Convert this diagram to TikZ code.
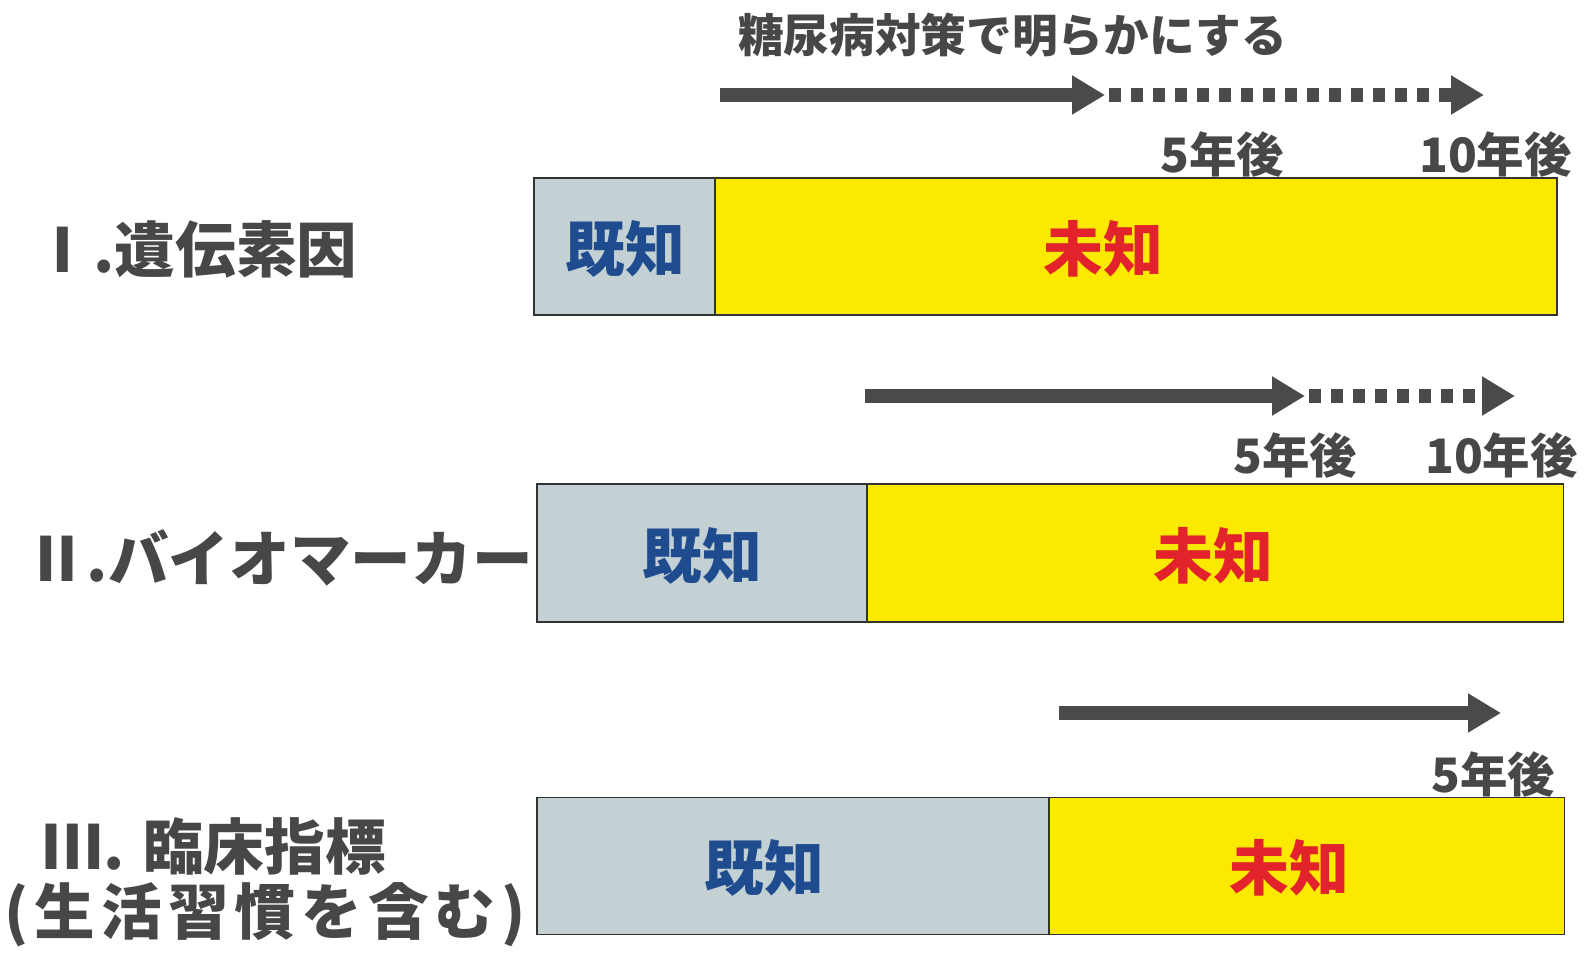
\documentclass[tikz,border=0pt]{standalone}
\usepackage{fontspec}
\setmainfont{Noto Sans CJK JP}
\newfontfamily\widefont{Noto Sans CJK JP}[LetterSpace=10]
\usetikzlibrary{arrows.meta}

\definecolor{inkgray}{HTML}{474747}
\definecolor{arrowgray}{HTML}{4A4A4A}
\definecolor{knownfill}{HTML}{C4D1D4}
\definecolor{unknownfill}{HTML}{FBE900}
\definecolor{knownblue}{HTML}{1F4C8F}
\definecolor{unknownred}{HTML}{E3232B}

\begin{document}
\begin{tikzpicture}[
    rowlabel/.style={anchor=west, inner sep=0pt, text=inkgray, font=\bfseries\fontsize{34.5}{40}\selectfont},
    yearlabel/.style={inner sep=0pt, text=inkgray, font=\bfseries\fontsize{27}{30}\selectfont},
    known/.style={draw=black!80, line width=1.1pt, fill=knownfill},
    unknown/.style={draw=black!80, line width=1.1pt, fill=unknownfill},
    knowntext/.style={inner sep=0pt, text=knownblue, font=\bfseries\fontsize{34}{38}\selectfont},
    unknowntext/.style={inner sep=0pt, text=unknownred, font=\bfseries\fontsize{34}{38}\selectfont},
    plan/.style={draw=arrowgray, line width=0.27cm, -{Triangle[length=0.66cm,width=0.74cm]}},
    goal/.style={plan, dash pattern=on 0.24cm off 0.2cm}
]

    \useasboundingbox (0,0) rectangle (31.84,19.16);

    \node [yearlabel, font=\bfseries\fontsize{26}{30}\selectfont] (title) at (20.25,18.45) {糖尿病対策で明らかにする};

    \coordinate (start1) at (14.40,17.26);
    \coordinate (five1) at (22.10,17.26);
    \coordinate (dots1) at (22.18,17.26);
    \coordinate (ten1) at (29.68,17.26);
    \draw [plan] (start1) -- (five1);
    \draw [goal] (dots1) -- (ten1);
    \node [yearlabel] (five1lab) at (24.44,16.08) {5年後};
    \node [yearlabel] (ten1lab) at (29.91,16.08) {10年後};

    \draw [known] (10.68,12.86) rectangle (14.30,15.60);
    \draw [unknown] (14.30,12.86) rectangle (31.14,15.60);
    \node [knowntext] (known1) at (12.51,14.18) {既知};
    \node [unknowntext] (unknown1) at (22.07,14.18) {未知};
    \node [rowlabel] (gene) at (0.65,14.18) {Ⅰ.遺伝素因};

    \coordinate (start2) at (17.30,11.24);
    \coordinate (five2) at (26.10,11.24);
    \coordinate (dots2) at (26.18,11.24);
    \coordinate (ten2) at (30.30,11.24);
    \draw [plan] (start2) -- (five2);
    \draw [goal] (dots2) -- (ten2);
    \node [yearlabel] (five2lab) at (25.91,10.06) {5年後};
    \node [yearlabel] (ten2lab) at (30.03,10.06) {10年後};

    \draw [known] (10.74,6.72) rectangle (17.34,9.48);
    \draw [unknown] (17.34,6.72) rectangle (31.27,9.48);
    \node [knowntext] (known2) at (14.05,8.04) {既知};
    \node [unknowntext] (unknown2) at (24.27,8.04) {未知};
    \node [rowlabel] (marker) at (0.52,8.00) {Ⅱ.バイオマーカー};

    \coordinate (start3) at (21.18,4.90);
    \coordinate (five3) at (30.02,4.90);
    \draw [plan] (start3) -- (five3);
    \node [yearlabel] (five3lab) at (29.87,3.68) {5年後};

    \draw [known] (10.74,0.47) rectangle (20.98,3.21);
    \draw [unknown] (20.98,0.47) rectangle (31.29,3.21);
    \node [knowntext] (known3) at (15.29,1.80) {既知};
    \node [unknowntext] (unknown3) at (25.79,1.80) {未知};
    \node [rowlabel] (clinic) at (0.85,2.24) {Ⅲ. 臨床指標};
    \node [rowlabel, font=\bfseries\widefont\fontsize{34.5}{40}\selectfont] (habit) at (0.08,0.86) {(生活習慣を含む)};

\end{tikzpicture}
\end{document}
